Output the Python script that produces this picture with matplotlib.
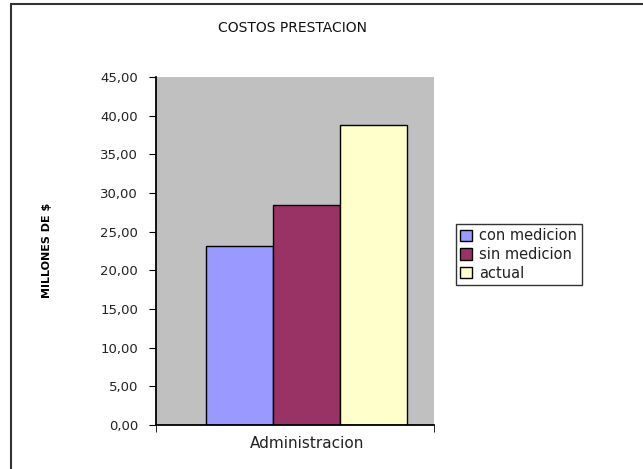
import matplotlib
matplotlib.use("Agg")
import matplotlib.pyplot as plt
from matplotlib.ticker import FuncFormatter, MultipleLocator
from matplotlib.patches import Rectangle

plt.rcParams['font.family'] = ['DejaVu Sans']

category = "Administracion"
series = ["con medicion", "sin medicion", "actual"]
values = [23.1, 28.4, 38.8]
colors = ["#9999FF", "#993366", "#FFFFCC"]
title = "COSTOS PRESTACION"
ylabel = "MILLONES DE $"

fig = plt.figure(figsize=(6.43, 4.69), dpi=100)
fig.patch.set_facecolor("white")
# outer chart border (right and bottom edges fall outside the image)
fig.add_artist(Rectangle((11/643, -10/469), 650/643, 475/469, transform=fig.transFigure,
                         fill=False, edgecolor="#333333", linewidth=1.5, clip_on=False))

ax = fig.add_axes([156/643, 44/469, 278/643, 348/469])
ax.set_facecolor("#C0C0C0")
offsets = [-1, 0, 1]
for off, v, c, s in zip(offsets, values, colors, series):
    ax.bar(off, v, width=1.0, color=c, edgecolor="black", linewidth=1.0, label=s)

ax.set_xlim(-2.25, 1.9)
ax.set_ylim(0, 45)
ax.yaxis.set_major_locator(MultipleLocator(5))
ax.yaxis.set_major_formatter(FuncFormatter(lambda v, p: f"{v:.2f}".replace(".", ",")))
ax.set_xticks([0])
ax.set_xticklabels([category], fontsize=11, color="#222222")
ax.tick_params(axis="x", length=0, pad=8)
ax.set_xticks([-2.25, 1.9], minor=True)
ax.tick_params(axis="x", which="minor", length=5, direction="out")
ax.tick_params(axis="y", length=5, direction="out", labelsize=9.5, labelcolor="#222222", pad=8)
for sp in ["top", "right"]:
    ax.spines[sp].set_visible(False)
ax.spines["left"].set_linewidth(1.3)
ax.spines["bottom"].set_linewidth(1.3)

fig.text(293/643, 1 - 28/469, title, ha="center", va="center", fontsize=10, color="#111111")
fig.text(47/643, 1 - 250/469, ylabel, rotation=90, ha="center", va="center",
         fontsize=8, fontweight="bold")

leg = fig.legend(loc="upper left", bbox_to_anchor=(456/643, 1 - 224/469),
                 fontsize=10.5, frameon=True, fancybox=False, edgecolor="black",
                 handlelength=0.8, handleheight=0.8, handletextpad=0.5,
                 borderpad=0.3, labelspacing=0.25, borderaxespad=0)
leg.get_frame().set_linewidth(1.0)
for t in leg.get_texts():
    t.set_color("#222222")

fig.savefig("out.png", dpi=100)
